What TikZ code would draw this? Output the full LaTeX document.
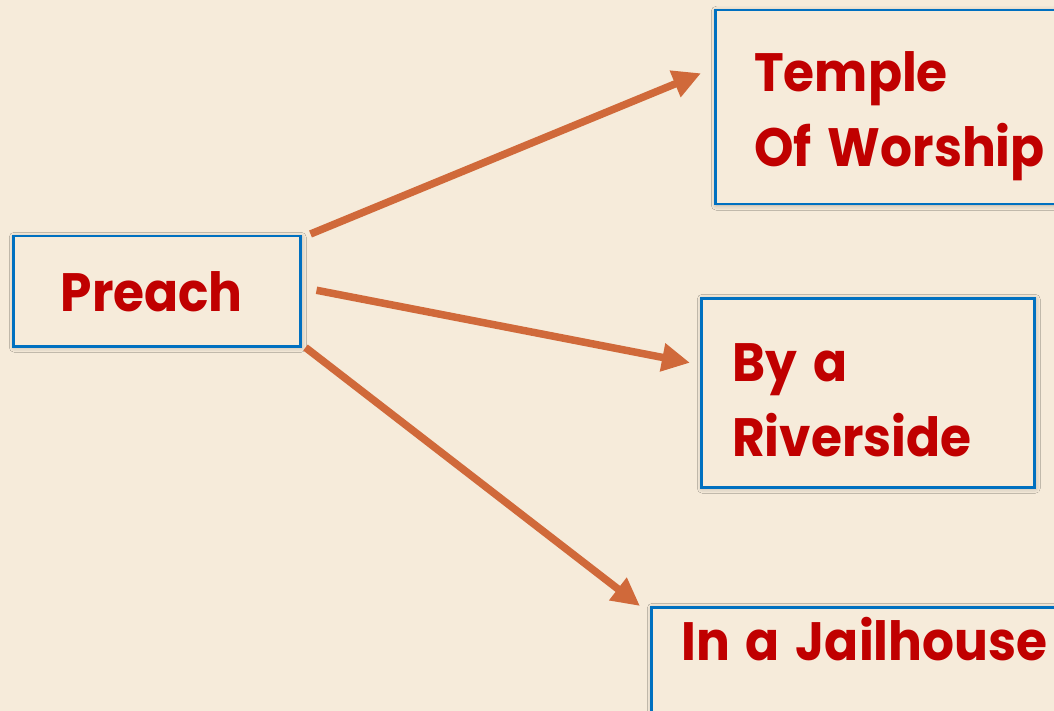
\documentclass[tikz,border=0pt]{standalone}
\usepackage{fontspec}
\newfontfamily\boxFont{Poppins}[FakeStretch=0.93,WordSpace=1.5]
\usepackage{xcolor}
\definecolor{pageBg}{HTML}{F6EBDA}
\definecolor{boxBlue}{HTML}{0070C0}
\definecolor{textRed}{HTML}{C00000}
\definecolor{arrowOrange}{HTML}{D0693A}
\usepackage{tikz}
\usetikzlibrary{positioning,calc,arrows.meta,shadows.blur}
\tikzset{%
  topicBox/.style={%
    rectangle,
    draw=boxBlue,
    line width=2.5pt,
    fill=pageBg,
    blur shadow={shadow xshift=1pt,shadow yshift=-1pt,shadow blur radius=5pt,shadow opacity=30},
    anchor=north west,
    inner sep=0pt,
    align=center,
    text=textRed,
    font=\boxFont\bfseries\fontsize{54pt}{75pt}\selectfont
  },
  topicText/.style={%
    anchor=north west,
    inner sep=0pt,
    align=left,
    text=textRed,
    font=\boxFont\bfseries\fontsize{54pt}{75pt}\selectfont
  },
  arrowLine/.style={%
    -{Triangle[length=28pt,width=27pt]},
    line width=7.5pt,
    color=arrowOrange
  }
}

\begin{document}
\begin{tikzpicture}[x=1pt,y=-1pt]
            \fill[pageBg] (0,0) rectangle (1054,711);
            \useasboundingbox (0,0) rectangle (1054,711);
            \clip (0,0) rectangle (1054,711);

            \node[topicBox, minimum width=287pt, minimum height=110pt] (preach) at (12,235) {Preach\hspace{10pt}};
            \node[topicBox, minimum width=407pt, minimum height=194pt] (temple) at (714,9) {};
            \node[topicBox, minimum width=333pt, minimum height=189pt] (riverside) at (700,297) {};
            \node[topicBox, minimum width=471pt, minimum height=195pt] (jailhouse) at (650,606) {};

            \node[topicText] (templeText) at ($(temple.north west)+(40,42)$) {Temple\\Of Worship};
            \node[topicText] (riversideText) at ($(riverside.north west)+(32,46)$) {By a\\Riverside};
            \node[topicText] (jailhouseText) at ($(jailhouse.north west)+(31,11)$) {In a Jailhouse};

            \draw[arrowLine] ($(preach.north east)+(9,-1)$) -- ($(temple.west)+(-13,-34)$);
            \draw[arrowLine] ($(preach.east)+(15,-1)$) -- ($(riverside.west)+(-10,-30)$);
            \draw[arrowLine] ($(preach.south east)+(4,0)$) -- ($(jailhouse.north west)+(-10,0)$);
        \end{tikzpicture}
\end{document}
